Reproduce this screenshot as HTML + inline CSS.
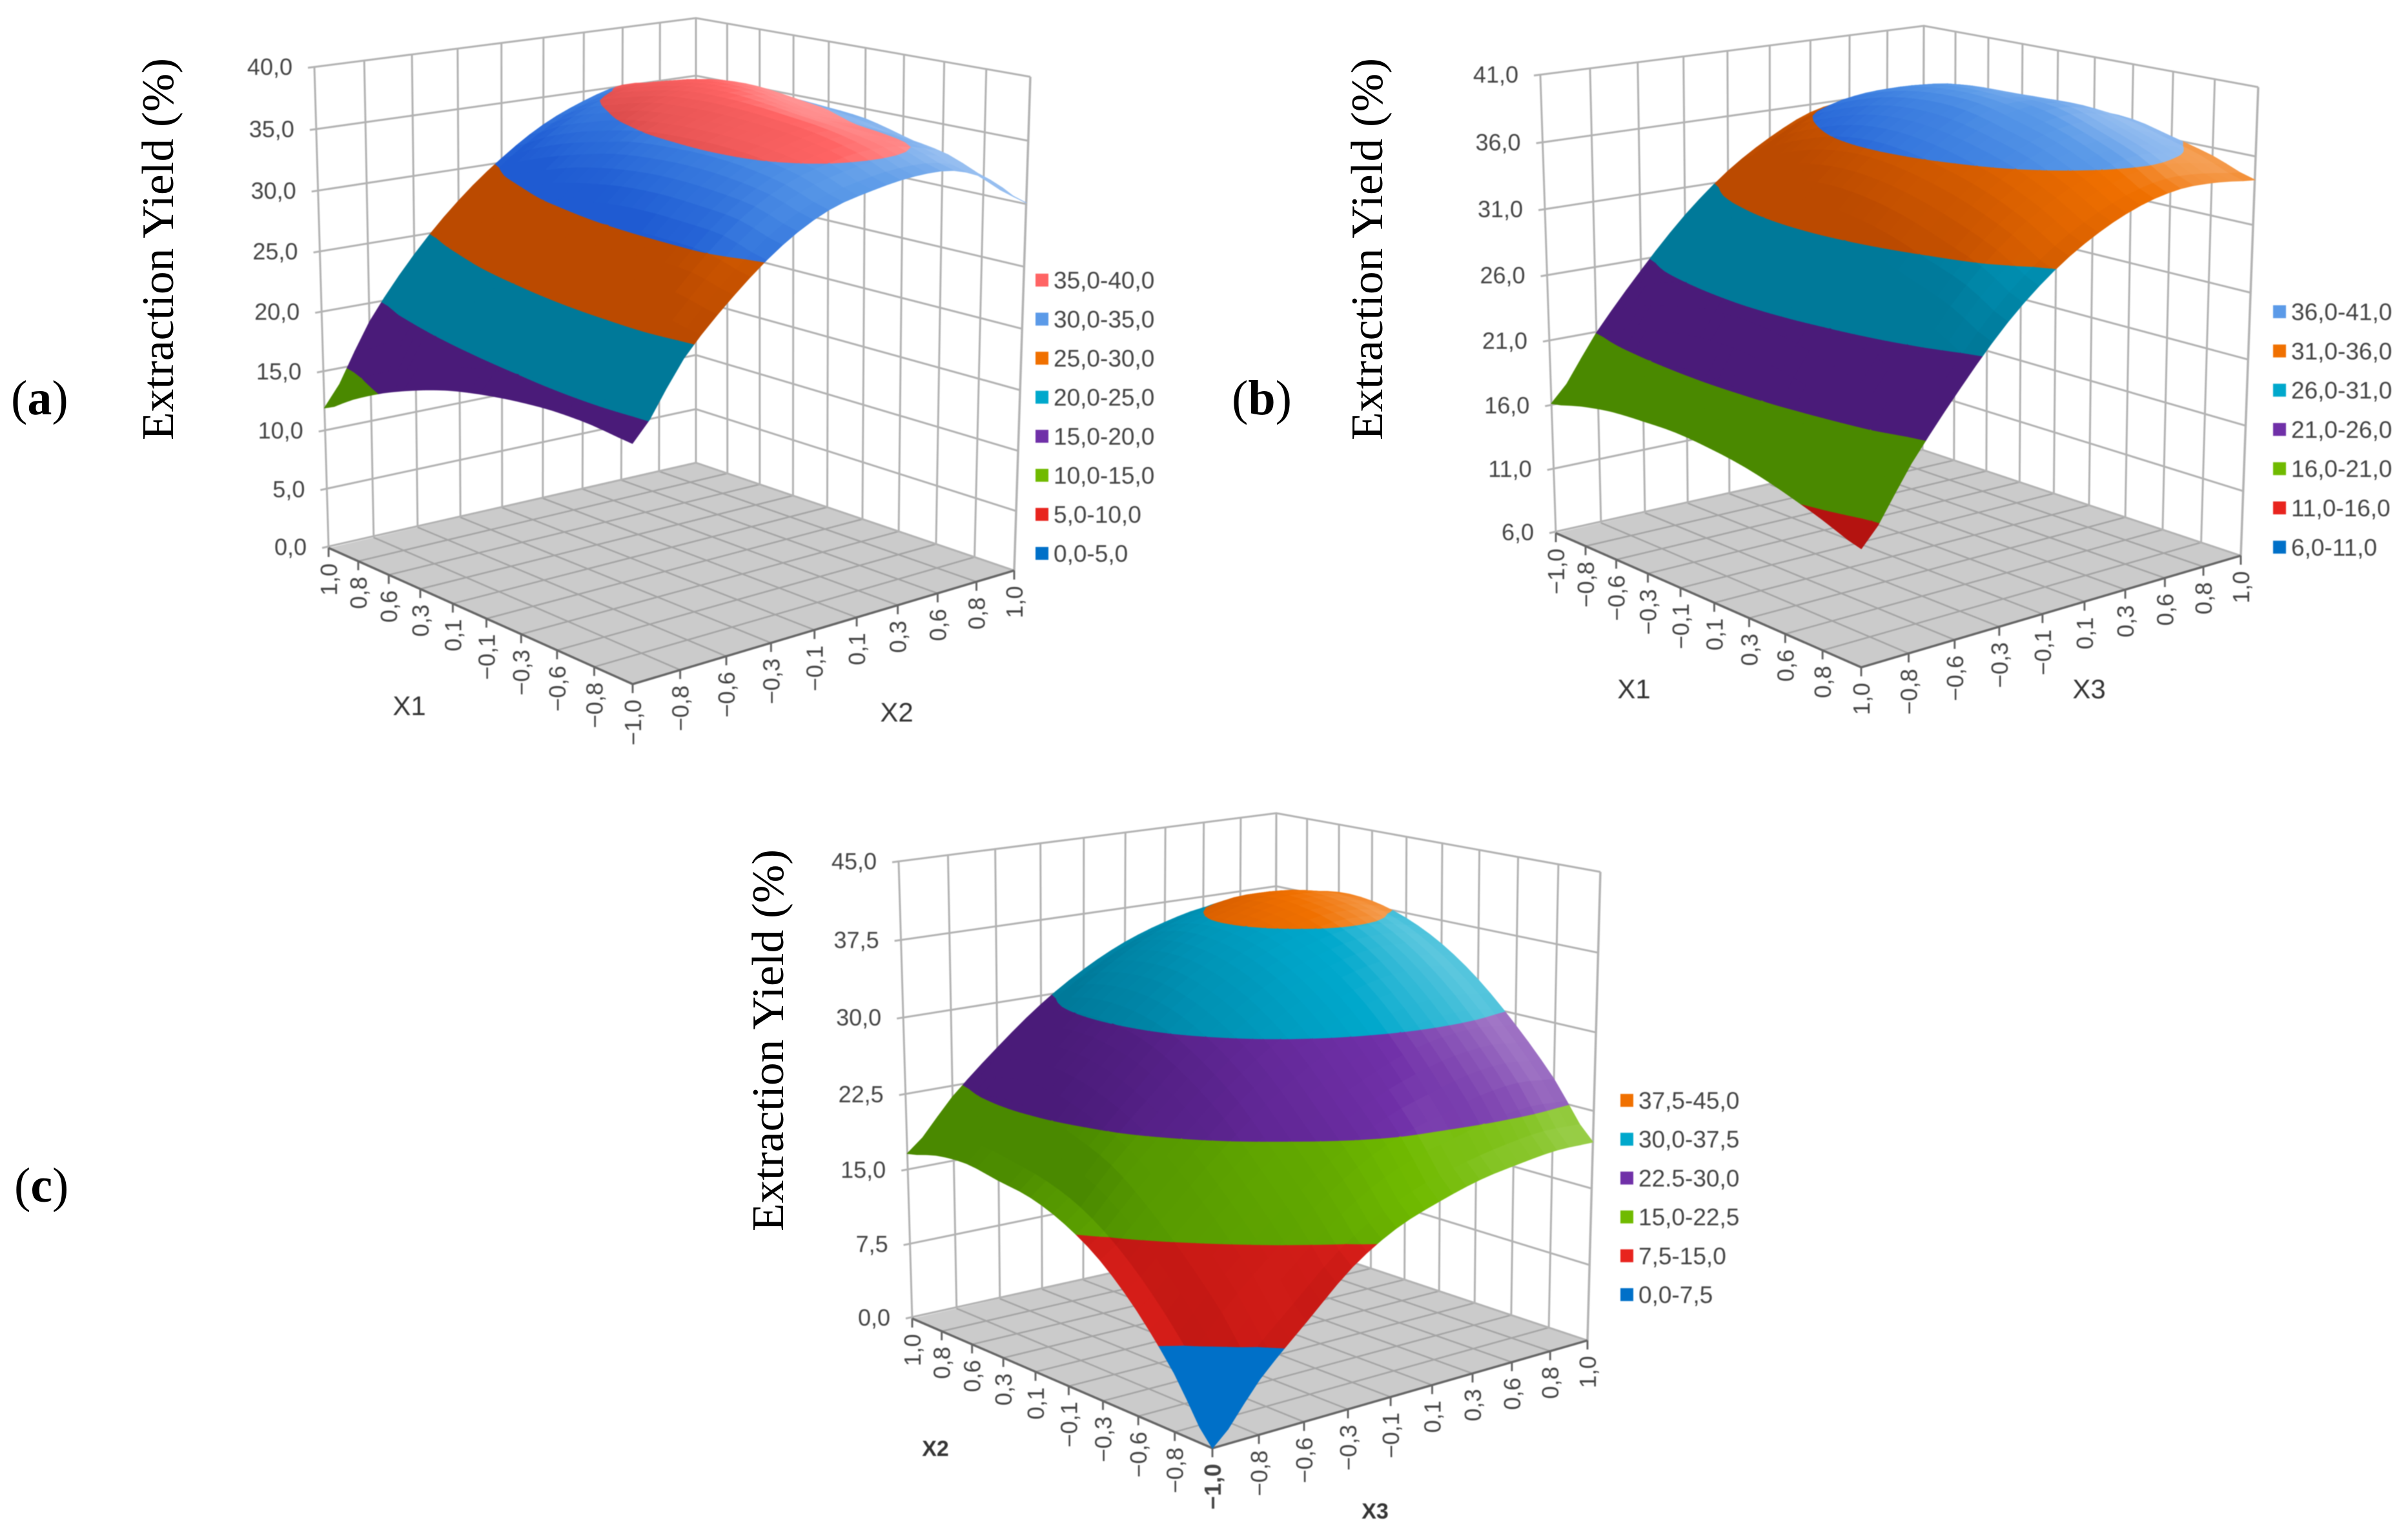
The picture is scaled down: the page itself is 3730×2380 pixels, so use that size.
<!DOCTYPE html>
<html lang="en">
<head>
<meta charset="utf-8">
<title>Extraction yield response surfaces</title>
<style>
html,body{margin:0;padding:0;background:#fff;}
svg{display:block;}
.tick{font-family:"Liberation Sans",Arial,sans-serif;font-size:36px;fill:#444;}
.legend{font-family:"Liberation Sans",Arial,sans-serif;font-size:37px;fill:#444;}
.axis{font-family:"Liberation Sans",Arial,sans-serif;font-size:42px;fill:#333;}
.title{font-family:"Liberation Serif",serif;font-size:70px;fill:#000;}
.plabel{font-family:"Liberation Serif",serif;font-size:76px;fill:#000;}
.chart{filter:blur(0.8px);}
</style>
</head>
<body>
<svg id="figure" xmlns="http://www.w3.org/2000/svg" width="3730" height="2380" viewBox="0 0 3730 2380">
  <rect width="3730" height="2380" fill="#fff"/>
  <g id="panel-a" class="chart"></g>
  <g id="panel-b" class="chart"></g>
  <g id="panel-c" class="chart"></g>
  <text class="title" transform="translate(268,386) rotate(-90)" text-anchor="middle" textLength="592" lengthAdjust="spacingAndGlyphs">Extraction Yield (%)</text>
  <text class="title" transform="translate(2141,386) rotate(-90)" text-anchor="middle" textLength="592" lengthAdjust="spacingAndGlyphs">Extraction Yield (%)</text>
  <text class="title" transform="translate(1213,1612) rotate(-90)" text-anchor="middle" textLength="592" lengthAdjust="spacingAndGlyphs">Extraction Yield (%)</text>
  <text class="plabel" x="17" y="642">(<tspan font-weight="bold">a</tspan>)</text>
  <text class="plabel" x="1908" y="642">(<tspan font-weight="bold">b</tspan>)</text>
  <text class="plabel" x="22" y="1862">(<tspan font-weight="bold">c</tspan>)</text>
</svg>
<script>
// ---------- chart data ----------
const bandColors = ['#0070c8', '#e8241e', '#70ba00', '#7030a8', '#00a8cc', '#f07000', '#5b9ae8', '#ff6464'];

const uTicksA = ['1,0', '0,8', '0,6', '0,3', '0,1', '−0,1', '−0,3', '−0,6', '−0,8', '−1,0'];
const vTicksA = ['−1,0', '−0,8', '−0,6', '−0,3', '−0,1', '0,1', '0,3', '0,6', '0,8', '1,0'];
const zLevelsA = [0, 5, 10, 15, 20, 25, 30, 35, 40];
const zLabelsA = ['0,0', '5,0', '10,0', '15,0', '20,0', '25,0', '30,0', '35,0', '40,0'];
const legendA = ['0,0-5,0', '5,0-10,0', '10,0-15,0', '15,0-20,0', '20,0-25,0', '25,0-30,0', '30,0-35,0', '35,0-40,0'];
const yieldA = [
  [12.0, 18.5, 23.5, 27.4, 30.4, 32.7, 34.2, 35.1, 34.8, 34.2],
  [13.7, 20.0, 24.8, 28.8, 31.8, 34.0, 35.4, 35.9, 35.4, 34.5],
  [15.2, 21.3, 26.0, 29.9, 32.9, 34.9, 36.2, 36.6, 36.1, 34.7],
  [16.4, 22.4, 27.1, 31.0, 33.7, 35.7, 36.8, 37.0, 36.2, 34.7],
  [17.4, 23.2, 27.9, 31.7, 34.4, 36.0, 37.0, 36.9, 35.8, 34.5],
  [18.1, 23.9, 28.5, 32.2, 34.7, 36.1, 36.9, 36.3, 35.2, 34.2],
  [18.6, 24.4, 28.8, 32.4, 34.8, 36.0, 36.6, 35.7, 34.7, 33.4],
  [18.9, 24.6, 28.9, 32.3, 34.6, 35.7, 36.2, 35.4, 34.4, 32.5],
  [18.9, 24.6, 28.8, 32.0, 34.0, 35.0, 35.4, 35.0, 33.8, 31.4],
  [18.6, 24.1, 28.0, 31.0, 32.9, 33.7, 34.1, 33.9, 32.5, 30.1]
];

const uTicksB = ['−1,0', '−0,8', '−0,6', '−0,3', '−0,1', '0,1', '0,3', '0,6', '0,8', '1,0'];
const vTicksB = ['−1,0', '−0,8', '−0,6', '−0,3', '−0,1', '0,1', '0,3', '0,6', '0,8', '1,0'];
const zLevelsB = [6, 11, 16, 21, 26, 31, 36, 41];
const zLabelsB = ['6,0', '11,0', '16,0', '21,0', '26,0', '31,0', '36,0', '41,0'];
const legendB = ['6,0-11,0', '11,0-16,0', '16,0-21,0', '21,0-26,0', '26,0-31,0', '31,0-36,0', '36,0-41,0'];
const yieldB = [
  [16.2, 21.0, 25.2, 28.9, 31.8, 33.9, 35.4, 35.9, 35.6, 35.5],
  [16.9, 22.1, 26.6, 30.4, 33.3, 35.5, 36.9, 37.1, 36.6, 36.1],
  [17.4, 22.8, 27.5, 31.5, 34.5, 36.6, 38.0, 38.1, 37.4, 36.6],
  [17.6, 23.3, 28.1, 32.3, 35.3, 37.4, 38.7, 38.8, 37.9, 36.8],
  [17.7, 23.5, 28.4, 32.6, 35.6, 37.7, 39.0, 39.0, 38.0, 36.8],
  [17.5, 23.3, 28.2, 32.4, 35.4, 37.5, 38.9, 38.9, 38.2, 37.0],
  [17.1, 22.8, 27.6, 31.8, 34.8, 36.9, 38.2, 38.7, 38.1, 36.9],
  [16.4, 22.0, 26.8, 30.8, 33.9, 36.0, 37.3, 37.7, 37.2, 36.2],
  [15.5, 21.0, 25.6, 29.7, 32.6, 34.6, 35.9, 36.5, 36.1, 35.4],
  [14.5, 19.6, 24.1, 28.0, 30.9, 32.9, 34.2, 34.8, 34.7, 34.3]
];

const uTicksC = ['1,0', '0,8', '0,6', '0,3', '0,1', '−0,1', '−0,3', '−0,6', '−0,8', '−1,0'];
const vTicksC = ['−1,0', '−0,8', '−0,6', '−0,3', '−0,1', '0,1', '0,3', '0,6', '0,8', '1,0'];
const zLevelsC = [0, 7.5, 15, 22.5, 30, 37.5, 45];
const zLabelsC = ['0,0', '7,5', '15,0', '22,5', '30,0', '37,5', '45,0'];
const legendC = ['0,0-7,5', '7,5-15,0', '15,0-22,5', '22.5-30,0', '30,0-37,5', '37,5-45,0'];
const yieldC = [
  [16.7, 21.5, 25.6, 29.2, 32.0, 34.1, 35.5, 36.4, 36.5, 36.0],
  [17.6, 22.6, 27.0, 30.7, 33.6, 35.8, 37.2, 38.1, 38.1, 37.5],
  [17.9, 23.1, 27.5, 31.3, 34.3, 36.6, 38.0, 38.9, 38.9, 38.2],
  [17.4, 22.7, 27.2, 31.1, 34.2, 36.4, 37.9, 38.7, 38.7, 38.0],
  [16.9, 21.6, 26.1, 30.1, 33.1, 35.4, 36.9, 37.8, 37.8, 37.0],
  [15.6, 20.1, 24.2, 28.1, 31.2, 33.5, 35.0, 35.9, 35.9, 35.2],
  [13.4, 17.4, 21.5, 25.3, 28.3, 30.6, 32.2, 33.0, 33.1, 32.5],
  [10.0, 14.0, 18.0, 21.5, 24.5, 26.7, 28.3, 29.2, 29.4, 28.9],
  [5.5, 10.0, 14.0, 17.6, 20.5, 22.5, 23.6, 24.6, 25.0, 24.6],
  [0.0, 5.2, 9.4, 13.4, 16.0, 17.5, 18.6, 19.2, 19.6, 19.5]
];

// ---------- helpers ----------
const NS = 'http://www.w3.org/2000/svg';
function make(tag, attrs, parent) {
  const node = document.createElementNS(NS, tag);
  for (const k in attrs) node.setAttribute(k, attrs[k]);
  parent.appendChild(node);
  return node;
}
function homography(p0, p1, p2, p3) {
  const dx1 = p1[0] - p2[0], dx2 = p3[0] - p2[0], sx = p0[0] - p1[0] + p2[0] - p3[0];
  const dy1 = p1[1] - p2[1], dy2 = p3[1] - p2[1], sy = p0[1] - p1[1] + p2[1] - p3[1];
  const den = dx1 * dy2 - dx2 * dy1;
  const g = (sx * dy2 - dx2 * sy) / den, h = (dx1 * sy - sx * dy1) / den;
  const a = p1[0] - p0[0] + g * p1[0], b = p3[0] - p0[0] + h * p3[0], c = p0[0];
  const d = p1[1] - p0[1] + g * p1[1], e = p3[1] - p0[1] + h * p3[1], f = p0[1];
  return function (u, v) {
    const w = g * u + h * v + 1;
    return [(a * u + b * v + c) / w, (d * u + e * v + f) / w];
  };
}
function catmull(p0, p1, p2, p3, t) {
  return 0.5 * (2 * p1 + (p2 - p0) * t + (2 * p0 - 5 * p1 + 4 * p2 - p3) * t * t + (3 * p1 - p0 - 3 * p2 + p3) * t * t * t);
}
function sampleSurface(grid, fi, fj) {
  const n = grid.length - 1, m = grid[0].length - 1;
  const i = Math.min(Math.floor(fi), n - 1), j = Math.min(Math.floor(fj), m - 1);
  const tu = fi - i, tv = fj - j;
  const col = [];
  for (let a = -1; a <= 2; a++) {
    const r = grid[Math.max(0, Math.min(n, i + a))];
    col.push(catmull(r[Math.max(0, j - 1)], r[j], r[j + 1], r[Math.min(m, j + 2)], tv));
  }
  return catmull(col[0], col[1], col[2], col[3], tu);
}
function clipBand(poly, level, keepAbove) {
  const out = [];
  for (let i = 0; i < poly.length; i++) {
    const a = poly[i], b = poly[(i + 1) % poly.length];
    const ina = keepAbove ? a[2] >= level : a[2] <= level;
    const inb = keepAbove ? b[2] >= level : b[2] <= level;
    if (ina) out.push(a);
    if (ina !== inb) {
      const t = (level - a[2]) / (b[2] - a[2]);
      out.push([a[0] + (b[0] - a[0]) * t, a[1] + (b[1] - a[1]) * t, level]);
    }
  }
  return out;
}
function tint(hex, f, vivid) {
  const c = [1, 3, 5].map(function (i) { return parseInt(hex.substr(i, 2), 16) / 255; });
  const r = c.map(function (x) {
    let y;
    if (f <= 1) y = vivid ? Math.pow(x, 1 / (f * f)) : (x * f + Math.pow(x, 1 / f) * Math.pow(f, 0.35)) / 2;
    else y = x + (1 - x) * Math.min(1, (f - 1) * 3);
    return Math.round(y * 255);
  });
  return 'rgb(' + r.join(',') + ')';
}

// ---------- panel drawing ----------
function drawPanel(cfg) {
  const g = document.getElementById(cfg.id);
  const floorMap = homography(cfg.L, cfg.F, cfg.R, cfg.B);
  const topMap = homography(cfg.TL, cfg.TF, cfg.TR, cfg.TB);
  const zMin = cfg.levels[0], zMax = cfg.levels[cfg.levels.length - 1];
  function project(u, v, z) {
    const t = (z - zMin) / (zMax - zMin);
    const s = t / (t + (1 - t) * 1.042);
    const a = floorMap(u, v), b = topMap(u, v);
    return [a[0] + (b[0] - a[0]) * s, a[1] + (b[1] - a[1]) * s];
  }
  const pts = function (list) {
    return list.map(function (p) { return p[0].toFixed(1) + ',' + p[1].toFixed(1); }).join(' ');
  };
  const nU = cfg.uTicks.length - 1, nV = cfg.vTicks.length - 1;

  const floor = make('polygon', { points: pts([cfg.L, cfg.F, cfg.R, cfg.B]), fill: '#cbcbcb' }, g);
  
  

  // floor grid
  for (let i = 1; i < nU; i++) {
    const a = project(i / nU, 0, zMin), b = project(i / nU, 1, zMin);
    const el = make('line', { x1: a[0], y1: a[1], x2: b[0], y2: b[1], stroke: '#a4a4a4', 'stroke-width': 2.5 }, g);
    
    
  }
  for (let j = 1; j < nV; j++) {
    const a = project(0, j / nV, zMin), b = project(1, j / nV, zMin);
    const el = make('line', { x1: a[0], y1: a[1], x2: b[0], y2: b[1], stroke: '#a4a4a4', 'stroke-width': 2.5 }, g);
    
    
  }

  // wall verticals
  for (let j = 0; j <= nV; j++) {
    const a = project(0, j / nV, zMin), b = project(0, j / nV, zMax);
    const el = make('line', { x1: a[0], y1: a[1], x2: b[0], y2: b[1], stroke: '#b2b2b2', 'stroke-width': 3 }, g);
    
    
  }
  for (let i = 0; i < nU; i++) {
    const a = project(i / nU, 1, zMin), b = project(i / nU, 1, zMax);
    const el = make('line', { x1: a[0], y1: a[1], x2: b[0], y2: b[1], stroke: '#b2b2b2', 'stroke-width': 3 }, g);
    
    
  }
  const rightEdgeA = project(1, 1, zMin), rightEdgeB = project(1, 1, zMax);
  const rightEdge = make('line', { x1: rightEdgeA[0], y1: rightEdgeA[1], x2: rightEdgeB[0], y2: rightEdgeB[1], stroke: '#b2b2b2', 'stroke-width': 3.5 }, g);
  
  

  // wall horizontals and z ticks
  cfg.levels.forEach(function (lv, idx) {
    const a = project(0, 0, lv), b = project(0, 1, lv), c = project(1, 1, lv);
    const el = make('polyline', { points: pts([[a[0] - 10, a[1]], b, c]), fill: 'none', stroke: '#b2b2b2', 'stroke-width': 3 }, g);
    
    
    const lab = make('text', { x: a[0] - 34, y: a[1] + 11, 'text-anchor': 'end', class: 'tick' }, g);
    lab.textContent = cfg.zLabels[idx];
    
    
  });

  // base axes edges
  const edge = make('polyline', { points: pts([cfg.L, cfg.F, cfg.R]), fill: 'none', stroke: '#666', 'stroke-width': 3.5 }, g);
  
  

  // base ticks and labels
  cfg.uTicks.forEach(function (txt, i) {
    const p = project(i / nU, 0, zMin);
    const tk = make('line', { x1: p[0], y1: p[1], x2: p[0], y2: p[1] + 14, stroke: '#666', 'stroke-width': 3 }, g);
    
    
    const lab = make('text', { transform: 'translate(' + (p[0] + 13) + ',' + (p[1] + 24) + ') rotate(-90)', 'text-anchor': 'end', class: 'tick' }, g);
    lab.textContent = txt;
    if (cfg.boldFront && i === nU) lab.setAttribute('font-weight', 'bold');
    
    
  });
  cfg.vTicks.forEach(function (txt, j) {
    if (j === 0) return;
    const p = project(1, j / nV, zMin);
    const tk = make('line', { x1: p[0], y1: p[1], x2: p[0], y2: p[1] + 14, stroke: '#666', 'stroke-width': 3 }, g);
    
    
    const lab = make('text', { transform: 'translate(' + (p[0] + 13) + ',' + (p[1] + 24) + ') rotate(-90)', 'text-anchor': 'end', class: 'tick' }, g);
    lab.textContent = txt;
    
    
  });

  // surface: fine grid painted back to front, clipped into value bands
  const sub = 3, grid = cfg.grid;
  const range = zMax - zMin;
  const light = [0.45, 0.55, 0.7];
  const surface = make('g', {}, g);
  
  
  for (let fi = 0; fi < nU * sub; fi++) {
    for (let fj = nV * sub - 1; fj >= 0; fj--) {
      const cell = [[fi, fj], [fi + 1, fj], [fi + 1, fj + 1], [fi, fj + 1]].map(function (q) {
        return [q[0] / (nU * sub), q[1] / (nV * sub), sampleSurface(grid, q[0] / sub, q[1] / sub)];
      });
      const dzu = ((cell[1][2] + cell[2][2]) - (cell[0][2] + cell[3][2])) / 2 * nU * sub / range * 0.9;
      const dzv = ((cell[3][2] + cell[2][2]) - (cell[0][2] + cell[1][2])) / 2 * nV * sub / range * 0.9;
      const len = Math.sqrt(dzu * dzu + dzv * dzv + 1);
      const lit = (-dzu * light[0] - dzv * light[1] + light[2]) / len;
      const f = Math.min(1.12, Math.max(0.7, 0.55 + lit * 0.64));
      for (let b = 0; b < cfg.levels.length - 1; b++) {
        let poly = clipBand(cell, cfg.levels[b], true);
        if (poly.length >= 3) poly = clipBand(poly, cfg.levels[b + 1], false);
        if (poly.length < 3) continue;
        const color = tint(bandColors[b], b === 0 ? 1 : f, b === 6);
        const facet = make('polygon', {
          points: pts(poly.map(function (p) { return project(p[0], p[1], p[2]); })),
          fill: color, stroke: color, 'stroke-width': 1.2, 'stroke-linejoin': 'round'
        }, surface);
        
        
      }
    }
  }

  // axis names
  const uName = make('text', { x: cfg.uName[0], y: cfg.uName[1], 'text-anchor': 'middle', class: 'axis', 'font-weight': cfg.boldFront ? 'bold' : 'normal', style: cfg.boldFront ? 'font-size:34px' : '' }, g);
  uName.textContent = cfg.uName[2];
  
  
  const vName = make('text', { x: cfg.vName[0], y: cfg.vName[1], 'text-anchor': 'middle', class: 'axis', 'font-weight': cfg.boldFront ? 'bold' : 'normal', style: cfg.boldFront ? 'font-size:34px' : '' }, g);
  vName.textContent = cfg.vName[2];
  
  

  // legend (top row holds the highest band)
  const count = cfg.legend.length;
  cfg.legend.forEach(function (txt, b) {
    const row = count - 1 - b;
    const cy = cfg.legendY + row * cfg.legendStep;
    const swatch = make('rect', { x: cfg.legendX - 10, y: cy - 10, width: 20, height: 20, fill: bandColors[b] }, g);
    
    
    const lab = make('text', { x: cfg.legendX + 18, y: cy + 13, class: 'legend' }, g);
    lab.textContent = txt;
    
    
  });
}

drawPanel({
  id: 'panel-a', grid: yieldA, levels: zLevelsA, zLabels: zLabelsA, uTicks: uTicksA, vTicks: vTicksA, legend: legendA,
  L: [509, 849], F: [980, 1060], R: [1571, 884], B: [1078, 717],
  TL: [487, 105], TF: [979, 240], TR: [1596, 119], TB: [1078, 28],
  uName: [634, 1108, 'X1'], vName: [1389, 1118, 'X2'],
  legendX: 1614, legendY: 434, legendStep: 60.5
});
drawPanel({
  id: 'panel-b', grid: yieldB, levels: zLevelsB, zLabels: zLabelsB, uTicks: uTicksB, vTicks: vTicksB, legend: legendB,
  L: [2410, 826], F: [2883, 1034], R: [3471, 861], B: [2978, 697],
  TL: [2386, 117], TF: [2884, 253], TR: [3498, 135], TB: [2980, 40],
  uName: [2531, 1082, 'X1'], vName: [3236, 1082, 'X3'],
  legendX: 3531, legendY: 483, legendStep: 60.8
});
drawPanel({
  id: 'panel-c', grid: yieldC, levels: zLevelsC, zLabels: zLabelsC, uTicks: uTicksC, vTicks: vTicksC, legend: legendC, boldFront: true,
  L: [1413, 2043], F: [1878, 2244], R: [2459, 2077], B: [1975, 1916],
  TL: [1392, 1336], TF: [1880, 1468], TR: [2479, 1351], TB: [1977, 1260],
  uName: [1449, 2256, 'X2'], vName: [2130, 2353, 'X3'],
  legendX: 2520, legendY: 1705, legendStep: 60.2
});
</script>
</body>
</html>
